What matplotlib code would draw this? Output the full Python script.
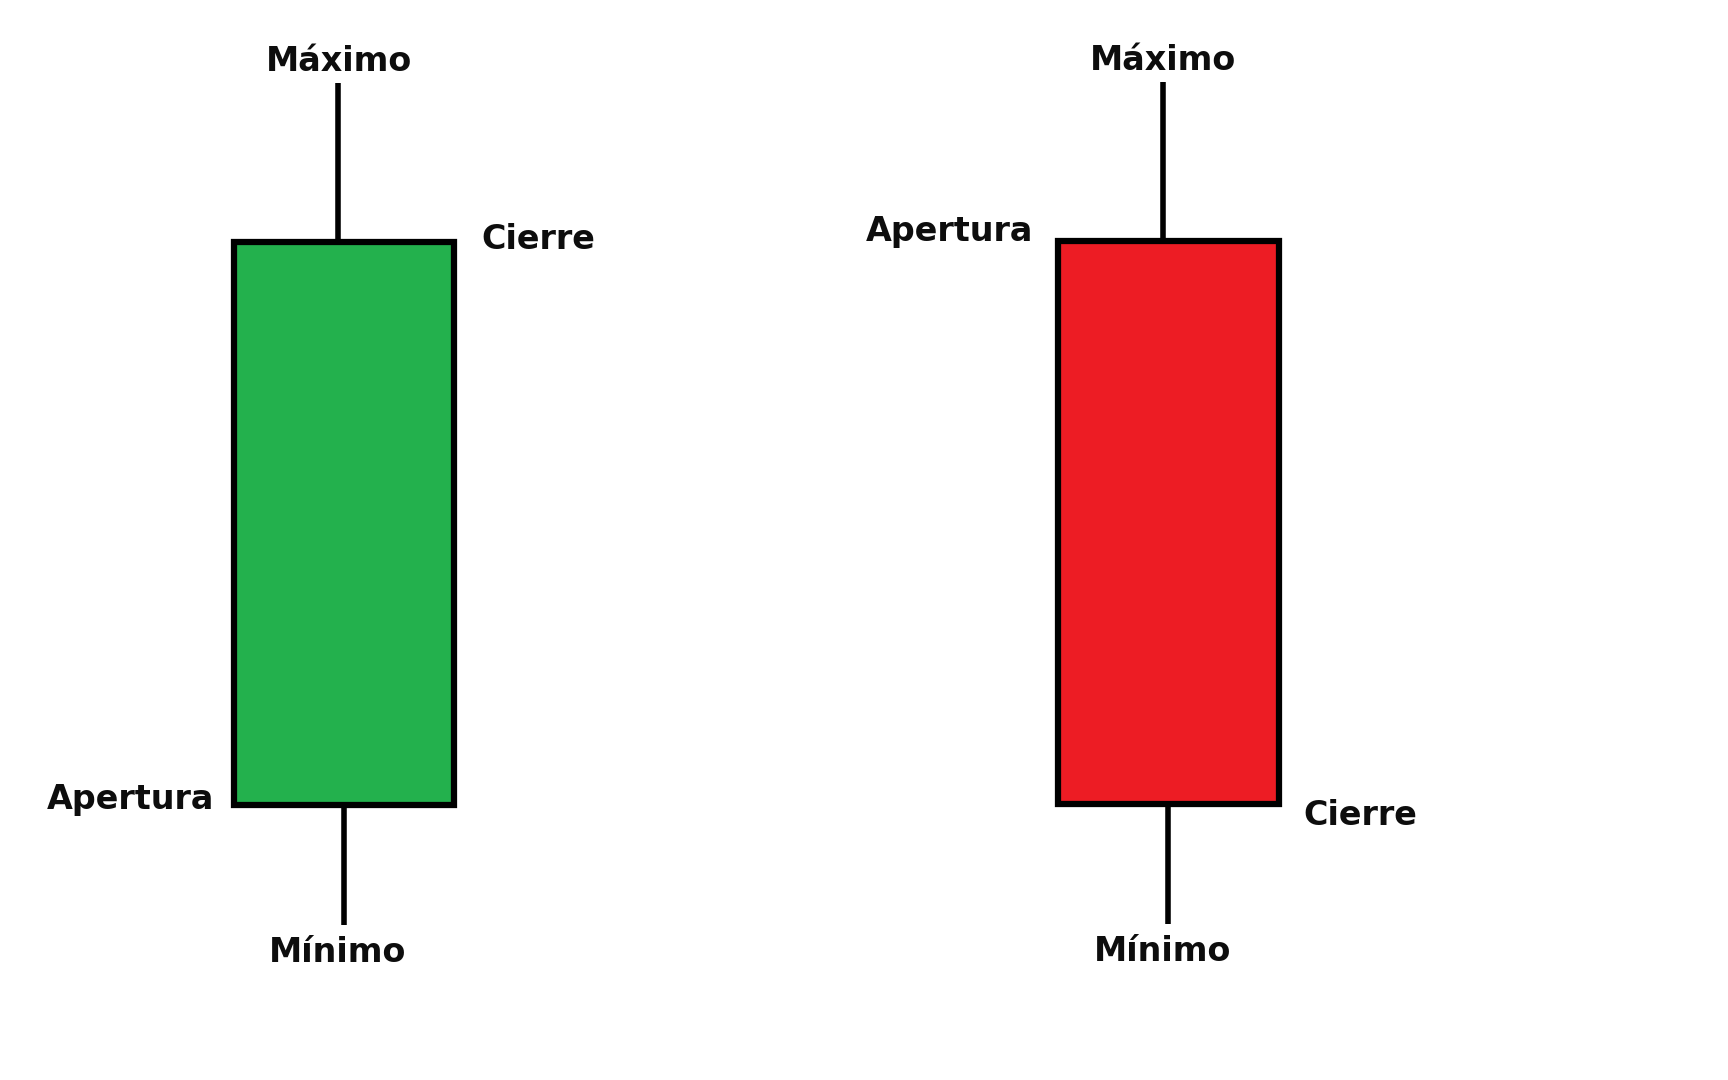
import matplotlib
matplotlib.use('Agg')
import matplotlib.pyplot as plt
from matplotlib.patches import Rectangle

# candle values (price units, arbitrary scale)
candle_names = ['Alcista', 'Bajista']
opens = [27.5, 83.9]
closes = [83.8, 27.6]
highs = [99.7, 99.8]
lows = [15.5, 15.6]
colors = ['#23B14D', '#ED1C24']

label_high = 'Máximo'
label_low = 'Mínimo'
label_open = 'Apertura'
label_close = 'Cierre'

fig = plt.figure(figsize=(17.28, 10.8), dpi=100)
ax = fig.add_axes([0, 0, 1, 1])
ax.set_xlim(-0.4164, 1.6782)
ax.set_ylim(0, 108)
ax.axis('off')

body_w = 0.2667
upper_wick_shift = -0.007   # the upper wick sits a bit left of centre in the drawing
font = dict(family='DejaVu Sans', fontweight='bold', fontsize=24, color='#0d0d0d')

for i, name in enumerate(candle_names):
    o, c, h, l = opens[i], closes[i], highs[i], lows[i]
    top, bottom = max(o, c), min(o, c)

    # wicks
    xu = i + upper_wick_shift
    ax.plot([xu, xu], [top, h], color='black', lw=4, solid_capstyle='butt', zorder=1)
    ax.plot([i, i], [l, bottom], color='black', lw=4, solid_capstyle='butt', zorder=1)
    # body
    ax.add_patch(Rectangle((i - body_w / 2, bottom), body_w, top - bottom,
                           facecolor=colors[i], edgecolor='black', lw=4.5,
                           joinstyle='miter', zorder=2))

    ax.annotate(label_high, xy=(i, h), xytext=(-5, 12), textcoords='offset pixels',
                ha='center', va='baseline', **font)
    ax.annotate(label_low, xy=(i, l), xytext=(-6, -37), textcoords='offset pixels',
                ha='center', va='baseline', **font)

    if c >= o:
        # bullish: close at the top right, open at the bottom left
        ax.annotate(label_close, xy=(i + body_w / 2, c), xytext=(28, -7),
                    textcoords='offset pixels', ha='left', va='baseline', **font)
        ax.annotate(label_open, xy=(i - body_w / 2, o), xytext=(-19, -4),
                    textcoords='offset pixels', ha='right', va='baseline', **font)
    else:
        # bearish: open at the top left, close at the bottom right
        ax.annotate(label_open, xy=(i - body_w / 2, o), xytext=(-25, 0),
                    textcoords='offset pixels', ha='right', va='baseline', **font)
        ax.annotate(label_close, xy=(i + body_w / 2, c), xytext=(25, -21),
                    textcoords='offset pixels', ha='left', va='baseline', **font)

fig.savefig('out.png', dpi=100, facecolor='white')
